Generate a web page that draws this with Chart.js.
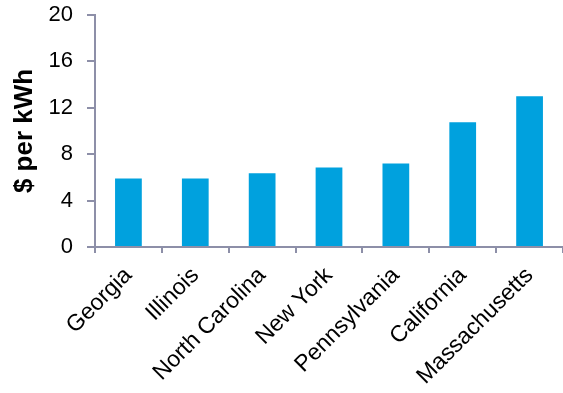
<!DOCTYPE html>
<html>
<head>
<meta charset="utf-8">
<script src="https://cdn.jsdelivr.net/npm/chart.js@4"></script>
<style>
  html, body { margin: 0; padding: 0; background: #fff; }
  #wrap { width: 563px; height: 393px; }
</style>
</head>
<body>
<div id="wrap"><canvas id="myChart"></canvas></div>
<script>
var states = ["Georgia", "Illinois", "North Carolina", "New York", "Pennsylvania", "California", "Massachusetts"];
var prices = [5.9, 5.9, 6.35, 6.85, 7.2, 10.75, 13.0];
var yTicks = [0, 4, 8, 12, 16, 20];

var axisColor = "#8d8fa8";
var ctx = document.getElementById("myChart");

var myBarChart = new Chart(ctx, {
  type: 'bar',
  data: {
    labels: states,
    datasets: [{
      label: "$ per kWh",
      backgroundColor: "#00a1de",
      data: prices,
      barPercentage: 0.4,
      categoryPercentage: 1.0
    }]
  },
  options: {
    responsive: true,
    maintainAspectRatio: false,
    animation: false,
    layout: { padding: { top: 15, right: 0, left: 0, bottom: 0 } },
    plugins: {
      legend: { display: false },
      tooltip: { enabled: false }
    },
    scales: {
      x: {
        grid: { display: true, drawOnChartArea: false, drawTicks: true, tickLength: 6, color: axisColor, lineWidth: 2, offset: true },
        border: { display: true, color: axisColor, width: 2 },
        ticks: {
          color: "#000",
          font: { family: "'Liberation Sans', Arial, sans-serif", size: 23 },
          maxRotation: 45, minRotation: 45,
          padding: 9,
          autoSkip: false
        },
        afterFit: function (scale) { scale.height = 146; }
      },
      y: {
        min: 0,
        max: 20,
        afterBuildTicks: function (scale) {
          scale.ticks = yTicks.map(function (v) { return { value: v }; });
        },
        grid: { display: true, drawOnChartArea: false, drawTicks: true, tickLength: 8, color: axisColor, lineWidth: 2 },
        border: { display: true, color: axisColor, width: 2 },
        ticks: {
          color: "#000",
          font: { family: "'Liberation Sans', Arial, sans-serif", size: 22 },
          padding: 14
        },
        title: {
          display: true,
          text: "$ per kWh",
          color: "#000",
          font: { family: "'Liberation Sans', Arial, sans-serif", size: 26, weight: 'bold' },
          padding: { top: 9, bottom: 0 }
        },
        afterFit: function (scale) {
          scale.width = 95;
          // keep the plot top at the layout padding, not label padding
          scale.paddingTop = 0;
          scale.paddingBottom = 0;
        }
      }
    }
  }
});
</script>
</body>
</html>
